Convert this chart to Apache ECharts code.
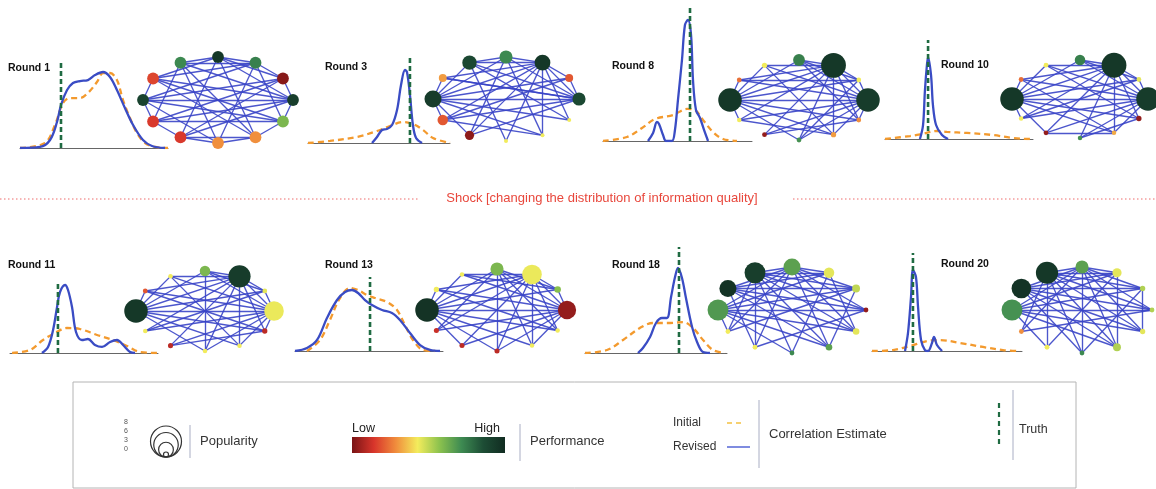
<!DOCTYPE html>
<html><head><meta charset="utf-8">
<script src="https://cdn.jsdelivr.net/npm/echarts@6/dist/echarts.min.js"></script>
<style>html,body{margin:0;padding:0;background:#fff}#c{width:1156px;height:489px}</style>
</head><body><div id="c"></div>
<script>
// ---------------- DATA ----------------
const rounds = ['Round 1','Round 3','Round 8','Round 10','Round 11','Round 13','Round 18','Round 20'];
// truth (position on the estimate axis, 0-100)
const truth = [27.7, 71.8, 58.4, 29.1, 32.4, 50.7, 66.2, 27.3];
// density curves [estimate, density]
const initial1 = [[0,0],[16.9,5.8],[23.6,26.7],[29.1,52.3],[33.8,58.1],[40.5,58.1],[45.9,64],[52,76.7],[56.1,87.2],[60.8,87.2],[65.5,79],[69.6,55.8],[74.3,34.9],[79,17.4],[84.5,5.8],[91.2,1.2],[100,0]];
const revised1 = [[0,0],[13.5,1.2],[20.3,9.3],[25,30.2],[27.7,50],[31.8,67.4],[35.8,75.6],[40.5,77.9],[45.9,79],[50.7,84.9],[56.1,88.4],[60.8,82.6],[65.5,67.4],[70.9,46.5],[76.4,26.7],[83.1,9.3],[89.2,2.3],[98,0]];
const initial3 = [[0,0],[15.5,2.4],[34.5,7.1],[48.6,14.1],[57.7,20],[66.9,24.7],[73.9,22.4],[81,15.3],[88,5.9],[100,0]];
const revised3 = [[45.1,0],[48.6,7.1],[52.1,15.3],[55.6,16.5],[59.2,21.2],[62.7,38.8],[65.5,68.2],[68.3,85.9],[69.7,83.5],[71.8,56.5],[73.9,21.2],[76.1,5.9],[80.3,0]];
const initial8 = [[0,0],[16.1,3],[26.2,9.8],[34.9,16.5],[47,19.5],[56.4,24.1],[61.7,23.3],[67.1,15.8],[73.8,6.8],[80.5,1.5],[89.9,0]];
const revised8 = [[30.2,0],[33.6,6],[36.2,14.3],[37.6,12.8],[40.3,4.5],[42.3,0],[46.3,0],[48.3,8.3],[50.3,30.8],[53,60.9],[55,87.2],[57,91],[59.1,79.7],[60.4,45.9],[62.4,23.3],[65.1,17.3],[67.8,8.3],[70.5,0]];
const initial10 = [[0,0],[16.9,3],[25,5.1],[35.1,8.1],[41.9,7.1],[55.4,6.1],[73,4],[86.5,1],[95.9,0],[100,0]];
const revised10 = [[23.6,0],[25.7,14.1],[27,49.5],[28.4,75.8],[29.1,82.8],[31.1,64.6],[32.4,34.3],[34.5,14.1],[38.5,4],[42.6,0]];
const initial11 = [[1.4,0],[13.5,4.2],[22.3,18.3],[30.4,28.2],[38.5,35.2],[47.3,33.8],[58.8,25.4],[69.6,18.3],[79.1,9.9],[87.8,1.4],[99.3,0]];
const revised11 = [[21.6,0],[25.7,8.5],[29.1,32.4],[31.8,64.8],[33.8,85.9],[37.2,95.8],[39.2,88.7],[41.9,64.8],[44.6,29.6],[48.6,18.3],[52.7,19.7],[57.4,11.3],[62.2,8.5],[67.6,15.5],[72.3,18.3],[76.4,11.3],[81.1,1.4],[84.5,0]];
const initial13 = [[8.1,0],[16.9,14.9],[23.6,41.9],[30.4,71.6],[37.2,85.1],[42.6,82.4],[48.6,75.7],[54.1,71.6],[62.2,66.2],[68.9,55.4],[74.3,35.1],[79.7,14.9],[86.5,1.4],[94.6,0]];
const revised13 = [[0,0],[8.1,4.1],[14.9,14.9],[21.6,44.6],[28.4,68.9],[33.8,79.7],[38.5,82.4],[42.6,78.4],[47.3,68.9],[52,62.2],[58.8,55.4],[65.5,51.4],[70.9,41.9],[77.7,24.3],[84.5,8.1],[91.2,1.4],[98,0]];
const initial18 = [[0,0],[15.5,2.8],[26.8,12.3],[38.7,23.6],[47.9,28.3],[59.9,28.3],[69,29.2],[76.1,23.6],[83.1,12.3],[90.1,2.8],[98.6,0]];
const revised18 = [[37.3,0],[40.8,4.7],[45.8,15.1],[50,28.3],[54.2,33],[57.7,33],[60.6,52.8],[63.4,71.7],[65.5,80.2],[68.3,70.8],[71.1,51.9],[75.4,24.5],[78.9,10.4],[83.1,0.9],[88,0]];
const initial20 = [[0,0],[14,1],[25.3,5.1],[36.7,10.2],[45.3,11.2],[58.7,8.2],[74,4.1],[87.3,1],[98.7,0]];
const revised20 = [[22,0],[24,18.4],[26,55.1],[27.3,82.7],[29.3,75.5],[30.7,44.9],[32.7,11.2],[35.3,1],[37.3,0],[40,8.2],[41.3,14.3],[43.3,6.1],[46.7,0]];

// network nodes: performance (0 low .. 1 high) and popularity (0..8), 12 agents on a ring
const perf1  = [0.72,0.95,0.74,0.02,0.92,0.60,0.29,0.29,0.15,0.15,0.90,0.17];
const pop1   = [3,3,3,3,3,3,3,3,3,3,3,3];
const perf3  = [0.88,0.72,0.95,0.20,0.88,0.43,0.43,0.43,0.03,0.20,0.93,0.31];
const pop3   = [4,3.5,4.5,1.5,3.5,0,0,0,2,2.5,5,1.5];
const perf8  = [0.43,0.74,0.95,0.43,0.93,0.29,0.31,0.70,0.04,0.43,0.95,0.24];
const pop8   = [0.5,3,8,0.3,7.5,0.3,0.5,0.3,0.3,0.2,7.5,0.3];
const perf10 = [0.43,0.74,0.95,0.45,0.93,0.04,0.33,0.70,0.04,0.43,0.95,0.24];
const pop10  = [0.3,2.5,8,0.3,7.5,0.5,0.2,0.2,0.3,0.2,7.5,0.3];
const perf11 = [0.43,0.60,0.93,0.45,0.44,0.10,0.43,0.43,0.10,0.43,0.95,0.20];
const pop11  = [0.2,2.5,7,0.3,6,0.5,0.2,0.2,0.4,0.2,7.5,0.3];
const perf13 = [0.43,0.60,0.44,0.58,0.04,0.43,0.43,0.10,0.10,0.12,0.97,0.43];
const pop13  = [0.2,3.5,6,1,5.5,0.2,0.2,0.4,0.4,0.4,7.5,0.5];
const perf18 = [0.92,0.66,0.45,0.50,0.04,0.45,0.66,0.72,0.43,0.43,0.68,0.97];
const pop18  = [6.5,5,2.5,1.5,0.3,1,1,0.3,0.3,0.3,6.5,5];
const perf20 = [0.95,0.66,0.45,0.52,0.52,0.45,0.52,0.72,0.43,0.29,0.70,0.97];
const pop20  = [7,3.5,2,0.5,0.3,0.5,1.5,0.3,0.3,0.3,6.5,6];

// network edges (agent index pairs)
const edges1 = [[0,1],[0,2],[0,4],[0,6],[0,9],[1,2],[1,3],[1,4],[1,8],[1,11],[2,3],[2,5],[2,10],[2,11],[3,4],[3,9],[3,10],[4,5],[4,8],[4,11],[5,6],[5,9],[5,10],[6,7],[6,8],[6,11],[7,8],[7,2],[7,10],[8,9],[8,3],[9,10],[9,4],[10,11],[10,4],[11,5],[0,7],[1,6]];
const edges3 = [[0,1],[0,2],[0,4],[0,7],[0,10],[1,2],[1,4],[1,10],[1,6],[2,3],[2,4],[2,10],[2,9],[2,8],[3,4],[3,10],[4,10],[4,11],[4,9],[5,10],[5,2],[6,2],[6,9],[7,2],[8,10],[8,4],[9,10],[10,11],[11,2],[11,4],[0,5],[1,8],[3,9],[6,10]];
const edges8 = [[10,2],[10,4],[10,1],[10,3],[10,5],[10,6],[10,0],[10,11],[10,9],[10,7],[2,0],[2,11],[2,9],[2,8],[2,7],[2,6],[2,5],[2,3],[2,4],[2,1],[4,0],[4,11],[4,9],[4,8],[4,7],[4,6],[4,1],[4,3],[4,5],[1,3],[1,5],[0,6],[11,3],[9,6],[8,5],[7,3]];
const edges10 = [[10,2],[10,4],[10,1],[10,3],[10,5],[10,6],[10,0],[10,11],[10,9],[10,8],[2,0],[2,11],[2,9],[2,8],[2,7],[2,6],[2,5],[2,3],[2,4],[2,1],[4,0],[4,11],[4,9],[4,8],[4,7],[4,6],[4,1],[4,3],[1,3],[0,5],[11,6],[9,3],[8,6],[7,5]];
const edges11 = [[10,2],[10,4],[10,1],[10,3],[10,5],[10,0],[10,11],[10,6],[10,7],[2,0],[2,11],[2,9],[2,8],[2,7],[2,6],[2,5],[2,3],[2,4],[2,1],[4,0],[4,1],[4,11],[4,9],[4,8],[4,7],[4,6],[4,3],[4,5],[1,3],[0,6],[11,5],[9,3],[8,5],[1,7]];
const edges13 = [[10,1],[10,2],[10,4],[10,3],[10,5],[10,6],[10,0],[10,11],[10,7],[10,8],[2,11],[2,9],[2,8],[2,7],[2,6],[2,5],[2,4],[2,0],[2,3],[4,0],[4,1],[4,11],[4,9],[4,8],[4,7],[4,6],[4,3],[1,3],[1,5],[1,6],[1,9],[1,7],[0,3],[11,5]];
const edges18 = [[0,1],[0,2],[0,3],[0,4],[0,5],[0,6],[0,7],[0,8],[0,9],[11,1],[11,2],[11,3],[11,4],[11,5],[11,6],[11,8],[10,1],[10,2],[10,3],[10,4],[10,5],[10,6],[10,7],[10,9],[1,2],[1,3],[1,4],[1,5],[1,6],[1,8],[1,9],[2,5],[3,6],[2,7],[9,3],[8,4]];
const edges20 = [[0,1],[0,2],[0,3],[0,4],[0,5],[0,6],[0,7],[0,8],[0,9],[11,1],[11,2],[11,3],[11,4],[11,5],[11,6],[11,7],[10,1],[10,2],[10,3],[10,4],[10,5],[10,6],[10,8],[1,2],[1,3],[1,4],[1,5],[1,6],[1,7],[1,9],[2,6],[3,5],[2,8],[9,4],[3,7]];

const popLegendTicks = ['8','6','3','0'];
const popLegendValues = [8,6,3,0];

// ---------------- LAYOUT / STYLE ----------------
const initials = [initial1,initial3,initial8,initial10,initial11,initial13,initial18,initial20];
const reviseds = [revised1,revised3,revised8,revised10,revised11,revised13,revised18,revised20];
const perfs = [perf1,perf3,perf8,perf10,perf11,perf13,perf18,perf20];
const pops = [pop1,pop3,pop8,pop10,pop11,pop13,pop18,pop20];
const edgeSets = [edges1,edges3,edges8,edges10,edges11,edges13,edges18,edges20];

// density panel boxes: [left, right, top, baseline]
const densBoxes = [[20,168,62,148],[308,450,58,143],[603,752,8,141],[885,1033,40,139],
                   [10,158,282,353],[295,443,277,351],[585,727,247,353],[872,1022,253,351]];
// ring boxes: [cx, cy, rx, ry]
const ringBoxes = [[218,100,75,43],[506,99,73,42],[799,100,69,40],[1080,99,68,39],
                   [205,311,69,40],[497,310,70,41],[792,310,74,43],[1082,310,70,43]];
const labelPos = [[8,68],[325,67],[612,66],[941,65],[8,265],[325,265],[612,265],[941,264]];

const perfColors = ['#7a1416','#d8352b','#f08c3c','#f3ec5c','#8cc24e','#3e8b52','#1d4d35','#112c21'];
const sizeOf = p => 4 + 2.6 * p;
const FONT = '"Liberation Sans", Arial, Helvetica, sans-serif';
const BLUE = '#3a4cc4', EDGE = '#3944c6', ORANGE = '#f39a2e', GREEN = '#1f6b42';

const grid = [], xAxis = [], yAxis = [], series = [], graphSeriesIdx = [];
densBoxes.forEach((b, k) => {
  grid.push({left: b[0], top: b[2], width: b[1]-b[0], height: b[3]-b[2], containLabel: false});
  xAxis.push({gridIndex: k, type: 'value', min: 0, max: 100,
    axisLine: {show: true, lineStyle: {color: '#666', width: 1}},
    axisTick: {show: false}, axisLabel: {show: false}, splitLine: {show: false}});
  yAxis.push({gridIndex: k, type: 'value', min: 0, max: 100, show: false, splitLine: {show: false}});
  series.push({type: 'line', xAxisIndex: k, yAxisIndex: k, data: initials[k], smooth: 0.35,
    symbol: 'none', lineStyle: {color: ORANGE, width: 2.3, type: [6, 4]}, z: 2, silent: true});
  series.push({type: 'line', xAxisIndex: k, yAxisIndex: k, data: reviseds[k], smooth: 0.35,
    symbol: 'none', lineStyle: {color: BLUE, width: 2.3}, z: 3, silent: true});
  series.push({type: 'line', xAxisIndex: k, yAxisIndex: k, data: [[truth[k], 0], [truth[k], 100]],
    symbol: 'none', lineStyle: {color: GREEN, width: 2.6, type: [5, 3]}, z: 4, silent: true});
});

ringBoxes.forEach((r, k) => {
  const n = perfs[k].length;
  const nodes = perfs[k].map((v, i) => {
    const a = (-120 + 360 / n * i) * Math.PI / 180;
    return {name: 'a' + i, x: r[2] * Math.cos(a), y: r[3] * Math.sin(a),
            value: v, symbolSize: sizeOf(pops[k][i])};
  });
  graphSeriesIdx.push(series.length);
  series.push({type: 'graph', layout: 'none', roam: false, silent: true,
    left: r[0]-r[2], top: r[1]-r[3], width: 2*r[2], height: 2*r[3],
    data: nodes, links: edgeSets[k].map(e => ({source: e[0], target: e[1]})),
    itemStyle: {borderWidth: 0, opacity: 1},
    lineStyle: {color: EDGE, width: 1.35, opacity: 0.9, curveness: 0},
    label: {show: false}, emphasis: {disabled: true}, z: 5});
});

const g = [];
rounds.forEach((t, k) => g.push({type: 'text', x: labelPos[k][0], y: labelPos[k][1],
  style: {text: t, font: 'bold 10.5px ' + FONT, fill: '#111', textVerticalAlign: 'middle'}}));
// shock line
g.push({type: 'line', shape: {x1: 0, y1: 199, x2: 419, y2: 199}, style: {stroke: '#ee6b6b', lineWidth: 1, lineDash: [1.5, 2.5]}});
g.push({type: 'line', shape: {x1: 793, y1: 199, x2: 1156, y2: 199}, style: {stroke: '#ee6b6b', lineWidth: 1, lineDash: [1.5, 2.5]}});
g.push({type: 'text', x: 602, y: 198, style: {text: 'Shock [changing the distribution of information quality]',
  font: '13px ' + FONT, fill: '#e8473c', textAlign: 'center', textVerticalAlign: 'middle'}});
// legend box
g.push({type: 'rect', shape: {x: 73, y: 382, width: 1003, height: 106}, style: {fill: 'none', stroke: '#b4b4b4', lineWidth: 1}});
const sep = (x, y1, y2) => g.push({type: 'line', shape: {x1: x, y1: y1, x2: x, y2: y2}, style: {stroke: '#a9aec4', lineWidth: 1}});
sep(190, 425, 458); sep(520, 424, 461); sep(759, 400, 468); sep(1013, 390, 460);
popLegendTicks.forEach((t, i) => g.push({type: 'text', x: 126, y: 422 + i * 9,
  style: {text: t, font: '7px ' + FONT, fill: '#555', textAlign: 'center', textVerticalAlign: 'middle'}}));
popLegendValues.forEach(p => {
  const rr = sizeOf(p) / 2 * 1.25;
  g.push({type: 'circle', shape: {cx: 166, cy: 457 - rr, r: rr}, style: {fill: 'none', stroke: '#333', lineWidth: 1.2}});
});
const txt = (x, y, s, extra) => g.push({type: 'text', x: x, y: y,
  style: Object.assign({text: s, font: '13px ' + FONT, fill: '#333', textVerticalAlign: 'middle'}, extra || {})});
txt(200, 441, 'Popularity');
txt(352, 429, 'Low', {font: '12.5px ' + FONT, fill: '#222'});
txt(500, 429, 'High', {font: '12.5px ' + FONT, fill: '#222', textAlign: 'right'});
g.push({type: 'rect', shape: {x: 352, y: 437, width: 153, height: 16}, style: {
  fill: new echarts.graphic.LinearGradient(0, 0, 1, 0, perfColors.map((c, i) => ({offset: i / (perfColors.length - 1), color: c})))}});
txt(530, 441, 'Performance');
txt(673, 423, 'Initial', {font: '12px ' + FONT});
txt(673, 447, 'Revised', {font: '12px ' + FONT});
g.push({type: 'line', shape: {x1: 727, y1: 423, x2: 745, y2: 423}, style: {stroke: '#f4c141', lineWidth: 1.5, lineDash: [5, 4]}});
g.push({type: 'line', shape: {x1: 727, y1: 447, x2: 750, y2: 447}, style: {stroke: '#5566d6', lineWidth: 1.5}});
txt(769, 434, 'Correlation Estimate');
g.push({type: 'line', shape: {x1: 999, y1: 403, x2: 999, y2: 446}, style: {stroke: GREEN, lineWidth: 2.2, lineDash: [5, 4]}});
txt(1019, 430, 'Truth', {font: '12.5px ' + FONT});

const chart = echarts.init(document.getElementById('c'), null, {renderer: 'canvas'});
chart.setOption({
  animation: false,
  backgroundColor: '#fff',
  grid, xAxis, yAxis, series,
  visualMap: {type: 'continuous', show: false, min: 0, max: 1, dimension: 0,
    seriesIndex: graphSeriesIdx, inRange: {color: perfColors}},
  graphic: g
});
</script></body></html>
